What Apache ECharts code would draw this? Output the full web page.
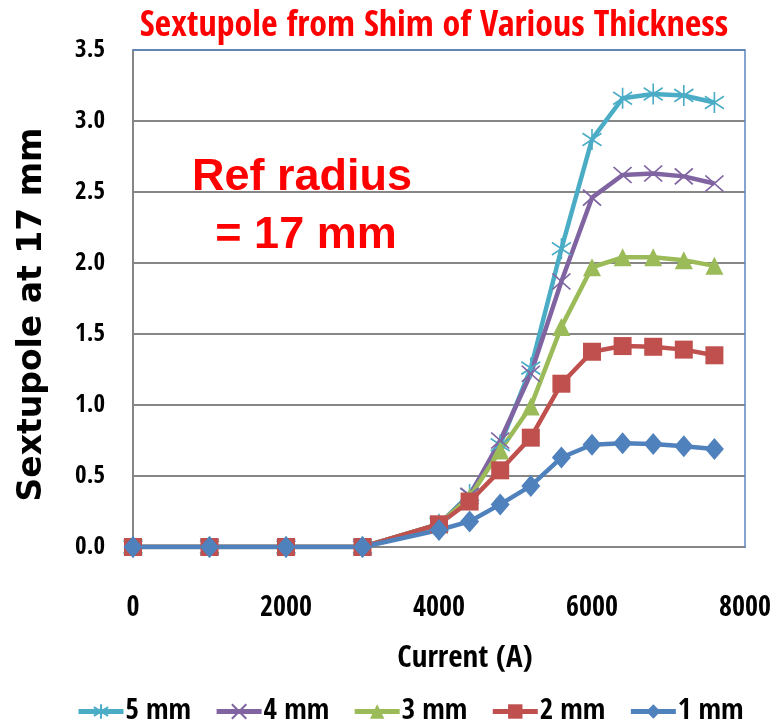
<!DOCTYPE html>
<html>
<head>
<meta charset="utf-8">
<script src="https://cdn.jsdelivr.net/npm/echarts@6/dist/echarts.min.js"></script>
<style>
  html, body { margin: 0; padding: 0; background: #fff; }
  #chart { width: 778px; height: 727px; }
</style>
</head>
<body>
<div id="chart"></div>
<script>
// Excitation current (A) at each measurement
const currents = [0, 1000, 2000, 3000, 4000, 4400, 4800, 5200, 5600, 6000, 6400, 6800, 7200, 7600];

// Sextupole at 17 mm reference radius, one list per shim thickness
const shim5mm = [0, 0, 0, 0, 0.16, 0.37, 0.72, 1.26, 2.10, 2.87, 3.16, 3.19, 3.18, 3.13];
const shim4mm = [0, 0, 0, 0, 0.16, 0.36, 0.75, 1.22, 1.87, 2.46, 2.62, 2.63, 2.61, 2.56];
const shim3mm = [0, 0, 0, 0, 0.16, 0.35, 0.68, 0.99, 1.55, 1.97, 2.04, 2.04, 2.02, 1.98];
const shim2mm = [0, 0, 0, 0, 0.16, 0.32, 0.54, 0.77, 1.15, 1.375, 1.415, 1.41, 1.39, 1.35];
const shim1mm = [0, 0, 0, 0, 0.12, 0.18, 0.30, 0.43, 0.63, 0.72, 0.73, 0.725, 0.71, 0.69];

const seriesNames = ['5 mm', '4 mm', '3 mm', '2 mm', '1 mm'];
const xTicks = { min: 0, max: 8000, step: 2000 };
const yTicks = { min: 0, max: 3.5, step: 0.5 };

const cond = '"Open Sans Condensed", "Roboto Condensed", Carlito, sans-serif';
const sans = '"Liberation Sans", Arial, sans-serif';

const asterisk = 'path://M0,-10L0,10M-8,-6L8,6M-8,6L8,-6';
const cross = 'path://M-8,-7L8,7M-8,7L8,-7';

function pairs(values) {
  return currents.map((c, i) => [c, values[i]]);
}

function lineSeries(name, values, color, symbol, size, strokeOnly) {
  return {
    name: name,
    type: 'line',
    data: pairs(values),
    symbol: symbol,
    symbolSize: size,
    showSymbol: true,
    lineStyle: { color: color, width: 4.5 },
    itemStyle: strokeOnly
      ? { color: color, borderColor: color, borderWidth: 1.7 }
      : { color: color, borderWidth: 0 },
    emphasis: { disabled: true },
    animation: false
  };
}

const chart = echarts.init(document.getElementById('chart'), null, { renderer: 'canvas' });

chart.setOption({
  backgroundColor: '#ffffff',
  animation: false,
  grid: { left: 133, right: 33, top: 50, bottom: 180, containLabel: false },
  legend: {
    data: seriesNames,
    left: 76,
    top: 697,
    padding: 0,
    itemWidth: 45,
    itemHeight: 18,
    itemGap: 23,
    lineStyle: { width: 5 },
    textStyle: { color: '#000', fontFamily: cond, fontWeight: 'bold', fontSize: 29, padding: [0, 0, 0, -3] }
  },
  xAxis: [{
    type: 'value',
    min: xTicks.min,
    max: xTicks.max,
    interval: xTicks.step,
    name: 'Current (A)',
    nameLocation: 'middle',
    nameGap: 96,
    nameTextStyle: { color: '#000', fontFamily: cond, fontWeight: 'bold', fontSize: 31, padding: [0, 0, 0, 52] },
    axisLine: { show: true, lineStyle: { color: '#868686', width: 2 } },
    axisTick: { show: false },
    splitLine: { show: false },
    axisLabel: { color: '#000', fontFamily: cond, fontWeight: 'bold', fontSize: 28, margin: 48, formatter: v => String(v) }
  }, {
    type: 'value',
    position: 'top',
    min: xTicks.min,
    max: xTicks.max,
    z: 1,
    axisLine: { show: true, onZero: false, lineStyle: { color: '#5b87c2', width: 1.5 } },
    axisTick: { show: false },
    axisLabel: { show: false },
    splitLine: { show: false }
  }],
  yAxis: [{
    type: 'value',
    min: yTicks.min,
    max: yTicks.max,
    interval: yTicks.step,
    name: 'Sextupole at 17 mm',
    nameLocation: 'middle',
    nameGap: 84,
    nameTextStyle: { color: '#000', fontFamily: '"DejaVu Sans", Verdana, sans-serif', fontWeight: 'bold', fontSize: 33, padding: [0, 32, 0, 0] },
    axisLine: { show: true, lineStyle: { color: '#868686', width: 2 } },
    axisTick: { show: false },
    splitLine: { show: true, lineStyle: { color: '#868686', width: 2 } },
    axisLabel: {
      color: '#000', fontFamily: cond, fontWeight: 'bold', fontSize: 25, margin: 28,
      formatter: v => v.toFixed(1)
    }
  }, {
    type: 'value',
    position: 'right',
    min: yTicks.min,
    max: yTicks.max,
    z: 1,
    axisLine: { show: true, onZero: false, lineStyle: { color: '#5b87c2', width: 1.5 } },
    axisTick: { show: false },
    axisLabel: { show: false },
    splitLine: { show: false }
  }],
  graphic: [{
    type: 'text',
    x: 434,
    y: 9,
    style: {
      text: 'Sextupole from Shim of Various Thickness',
      fill: '#ff0000',
      font: 'bold 36px ' + cond,
      textAlign: 'center'
    }
  }, {
    type: 'text',
    x: 302,
    y: 155,
    style: {
      text: 'Ref radius',
      fill: '#ff0000',
      font: 'bold 45px ' + sans,
      textAlign: 'center'
    }
  }, {
    type: 'text',
    x: 306,
    y: 213,
    style: {
      text: '= 17 mm',
      fill: '#ff0000',
      font: 'bold 45px ' + sans,
      textAlign: 'center'
    }
  }],
  series: [
    lineSeries(seriesNames[0], shim5mm, '#4bacc6', asterisk, [19, 21], true),
    lineSeries(seriesNames[1], shim4mm, '#8064a2', cross, [18, 16], true),
    lineSeries(seriesNames[2], shim3mm, '#9bbb59', 'triangle', 18, false),
    lineSeries(seriesNames[3], shim2mm, '#c0504d', 'rect', 18, false),
    lineSeries(seriesNames[4], shim1mm, '#4f81bd', 'diamond', [19, 22], false)
  ]
});
</script>
</body>
</html>
